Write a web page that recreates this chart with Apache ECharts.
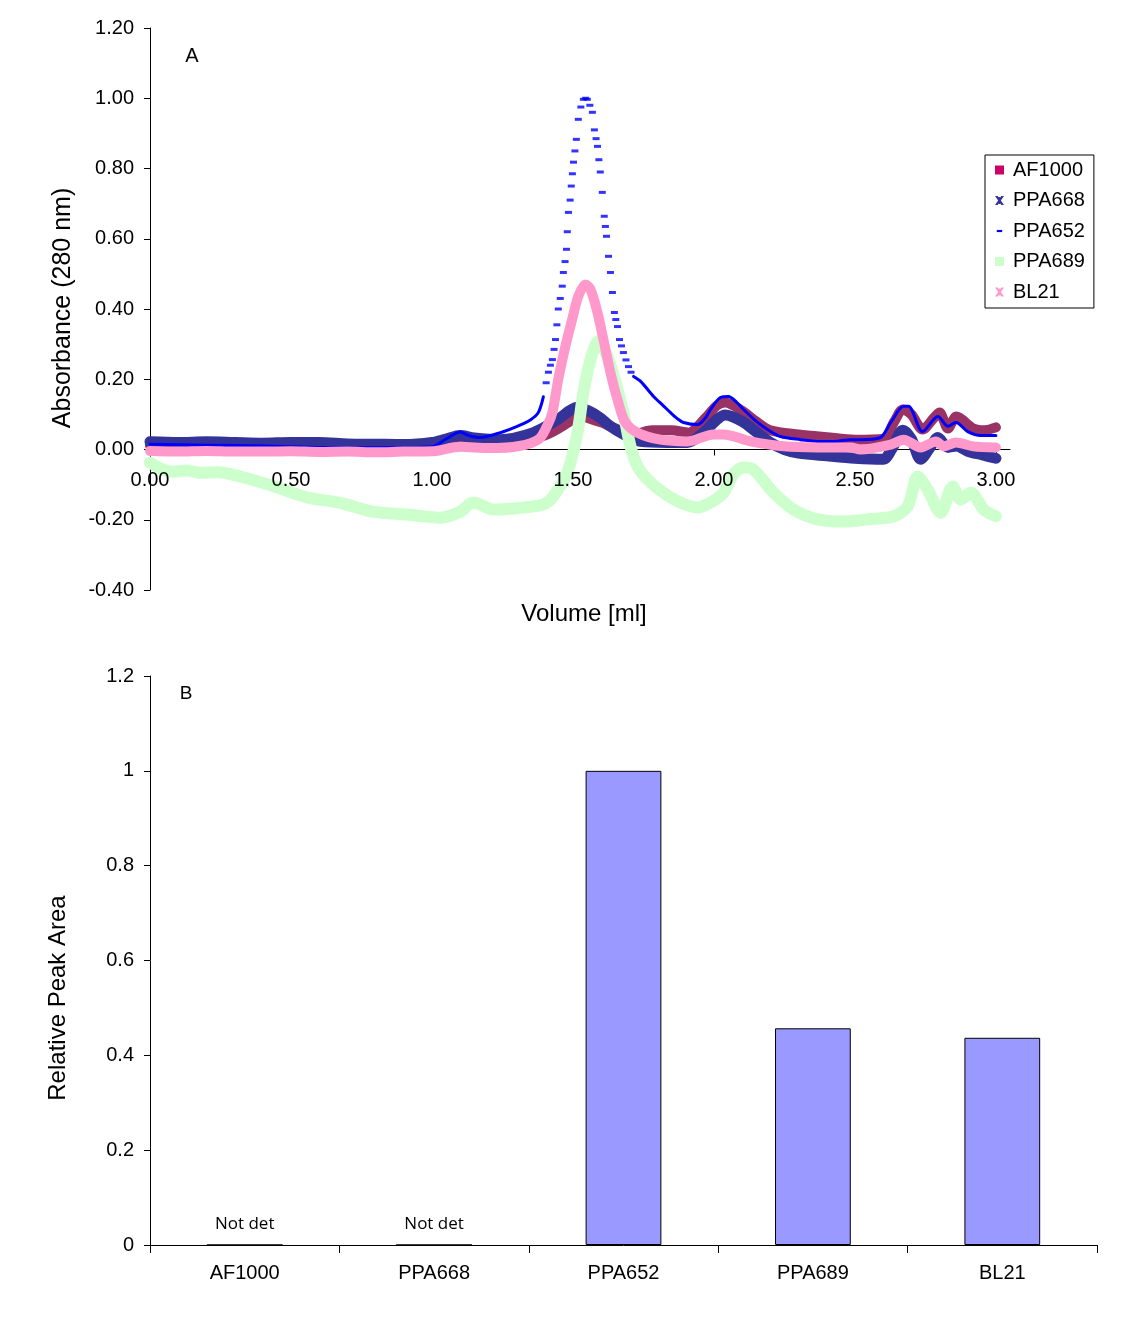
<!DOCTYPE html>
<html>
<head>
<meta charset="utf-8">
<title>Absorbance / Relative Peak Area</title>
<script src="https://cdn.jsdelivr.net/npm/echarts@6/dist/echarts.min.js"></script>
<style>
  html, body { margin: 0; padding: 0; background: #fff; }
  #main { width: 1138px; height: 1334px; }
</style>
</head>
<body>
<div id="main"></div>
<script>
// ---- panel A : absorbance traces, [volume ml, absorbance] ----
var af1000 = [[0,0.012],[0.1,0.01],[0.2,0.012],[0.3,0.01],[0.4,0.008],[0.5,0.01],[0.6,0.008],[0.7,0.008],[0.8,0.006],[0.9,0.006],[1.0,0.01],[1.1,0.025],[1.2,0.02],[1.3,0.025],[1.4,0.04],[1.45,0.06],[1.5,0.085],[1.53,0.094],[1.57,0.085],[1.6,0.077],[1.66,0.057],[1.72,0.045],[1.78,0.055],[1.85,0.055],[1.91,0.048],[1.97,0.09],[2.01,0.125],[2.04,0.134],[2.1,0.11],[2.15,0.08],[2.2,0.055],[2.3,0.043],[2.4,0.035],[2.5,0.028],[2.6,0.03],[2.64,0.08],[2.67,0.114],[2.7,0.1],[2.74,0.057],[2.78,0.09],[2.8,0.105],[2.83,0.06],[2.86,0.094],[2.92,0.06],[2.96,0.055],[3.0,0.063]];

var ppa668 = [[0,0.022],[0.1,0.02],[0.2,0.022],[0.3,0.02],[0.4,0.018],[0.5,0.02],[0.6,0.02],[0.7,0.016],[0.8,0.015],[0.9,0.014],[1.0,0.02],[1.05,0.03],[1.1,0.04],[1.15,0.033],[1.24,0.028],[1.36,0.048],[1.445,0.085],[1.516,0.12],[1.56,0.108],[1.597,0.09],[1.633,0.066],[1.68,0.043],[1.74,0.023],[1.835,0.02],[1.906,0.02],[1.963,0.048],[2.01,0.085],[2.04,0.098],[2.1,0.08],[2.15,0.05],[2.2,0.02],[2.25,0.0],[2.3,-0.01],[2.4,-0.018],[2.5,-0.025],[2.6,-0.028],[2.63,0.0],[2.67,0.055],[2.7,0.03],[2.733,-0.028],[2.77,0.01],[2.794,0.034],[2.83,0.006],[2.86,0.01],[2.9,-0.005],[2.95,-0.015],[3.0,-0.025]];

// PPA652 : solid where the points crowd together, single dashes on the steep peak
var ppa652Left = [[0,0.015],[0.2,0.012],[0.4,0.01],[0.6,0.006],[0.8,0.005],[1.0,0.008],[1.05,0.03],[1.1,0.05],[1.13,0.04],[1.17,0.034],[1.25,0.05],[1.3,0.065],[1.35,0.085],[1.377,0.105],[1.395,0.15]];
var ppa652Peak = [[1.405,0.19],[1.413,0.22],[1.42,0.24],[1.427,0.256],[1.433,0.285],[1.438,0.313],[1.443,0.355],[1.448,0.4],[1.455,0.43],[1.462,0.465],[1.466,0.504],[1.472,0.535],[1.477,0.57],[1.48,0.62],[1.484,0.675],[1.49,0.71],[1.494,0.75],[1.498,0.785],[1.502,0.818],[1.507,0.85],[1.512,0.883],[1.519,0.94],[1.528,0.975],[1.537,0.997],[1.545,1.0],[1.551,0.997],[1.56,0.98],[1.569,0.96],[1.576,0.91],[1.582,0.885],[1.587,0.863],[1.592,0.825],[1.597,0.79],[1.604,0.732],[1.611,0.664],[1.615,0.635],[1.619,0.607],[1.626,0.55],[1.633,0.504],[1.64,0.447],[1.647,0.39],[1.652,0.37],[1.658,0.35],[1.665,0.313],[1.672,0.295],[1.679,0.276],[1.688,0.255],[1.697,0.236],[1.706,0.22]];
var ppa652Right = [[1.715,0.208],[1.74,0.194],[1.786,0.151],[1.82,0.125],[1.846,0.105],[1.87,0.088],[1.892,0.077],[1.942,0.071],[1.97,0.09],[1.988,0.114],[2.023,0.148],[2.052,0.151],[2.08,0.135],[2.105,0.114],[2.155,0.077],[2.19,0.057],[2.236,0.037],[2.307,0.028],[2.368,0.023],[2.425,0.023],[2.485,0.028],[2.52,0.028],[2.59,0.034],[2.627,0.077],[2.673,0.123],[2.69,0.123],[2.74,0.051],[2.794,0.094],[2.83,0.066],[2.858,0.077],[2.9,0.051],[2.946,0.04],[3.0,0.04]];

var ppa689 = [[0,-0.037],[0.04,-0.055],[0.08,-0.063],[0.13,-0.06],[0.18,-0.066],[0.24,-0.065],[0.32,-0.077],[0.44,-0.105],[0.56,-0.137],[0.67,-0.151],[0.79,-0.177],[0.91,-0.185],[1.03,-0.194],[1.1,-0.177],[1.147,-0.151],[1.218,-0.171],[1.3,-0.167],[1.36,-0.162],[1.4,-0.155],[1.43,-0.134],[1.48,-0.066],[1.516,0.048],[1.537,0.162],[1.562,0.256],[1.59,0.308],[1.622,0.265],[1.651,0.191],[1.679,0.105],[1.704,0.009],[1.729,-0.048],[1.764,-0.085],[1.821,-0.123],[1.881,-0.151],[1.942,-0.165],[1.99,-0.15],[2.034,-0.123],[2.07,-0.07],[2.105,-0.051],[2.14,-0.057],[2.212,-0.123],[2.283,-0.171],[2.368,-0.199],[2.46,-0.205],[2.545,-0.199],[2.638,-0.19],[2.687,-0.162],[2.723,-0.077],[2.758,-0.114],[2.804,-0.18],[2.847,-0.105],[2.875,-0.142],[2.911,-0.123],[2.957,-0.171],[3.0,-0.19]];

var bl21 = [[0,-0.004],[0.1,-0.006],[0.2,-0.004],[0.3,-0.006],[0.4,-0.006],[0.5,-0.005],[0.6,-0.007],[0.7,-0.006],[0.8,-0.008],[0.9,-0.006],[1.0,-0.005],[1.1,0.008],[1.2,0.004],[1.31,0.01],[1.38,0.03],[1.41,0.07],[1.427,0.105],[1.448,0.2],[1.473,0.293],[1.497,0.37],[1.519,0.436],[1.544,0.47],[1.562,0.456],[1.587,0.39],[1.608,0.313],[1.633,0.219],[1.658,0.142],[1.686,0.077],[1.729,0.048],[1.81,0.028],[1.906,0.023],[1.999,0.043],[2.034,0.043],[2.13,0.023],[2.247,0.009],[2.368,0.006],[2.485,0.006],[2.52,0.0],[2.627,0.014],[2.673,0.028],[2.733,0.006],[2.787,0.023],[2.815,0.009],[2.858,0.02],[2.92,0.009],[3.0,0.006]];

var volumeTicks = [0, 0.5, 1.0, 1.5, 2.0, 2.5, 3.0];

// ---- panel B : relative peak area ----
var strains = ['AF1000', 'PPA668', 'PPA652', 'PPA689', 'BL21'];
var peakArea = [0, 0, 1.0, 0.457, 0.437];
var notDetected = [true, true, false, false, false];

var FONT = 'Liberation Sans';
var xIcon = 'path://M0,0 L3,0 L5,3 L7,0 L10,0 L6.5,5 L10,10 L7,10 L5,7 L3,10 L0,10 L3.5,5 Z M4.2,1 H5.8 V9 H4.2 Z';
var dashIcon = 'path://M0,0 M10,10 M2,3.8 H8 V6.2 H2 Z';

function band(name, data, color, width) {
  return {
    name: name,
    type: 'line',
    xAxisIndex: 0,
    yAxisIndex: 0,
    data: data,
    showSymbol: false,
    smooth: 0.3,
    silent: true,
    itemStyle: { color: color },
    lineStyle: { color: color, width: width, cap: 'round', join: 'round' }
  };
}

var chart = echarts.init(document.getElementById('main'), null, { renderer: 'canvas' });

var option = {
  animation: false,
  backgroundColor: '#fff',
  textStyle: { fontFamily: FONT, color: '#000' },
  grid: [
    { left: 150, right: 128, top: 28, bottom: 744 },
    { left: 150, right: 41, top: 676, bottom: 89 },
    // only carries the volume labels, its bottom edge sits on absorbance 0
    { left: 150, right: 128, top: 28, bottom: 884 }
  ],
  legend: {
    orient: 'vertical',
    left: 985,
    top: 155,
    padding: [5, 9, 6, 10],
    itemGap: 10.5,
    itemWidth: 9,
    itemHeight: 9,
    backgroundColor: '#fff',
    borderColor: '#000',
    borderWidth: 1,
    borderRadius: 0,
    textStyle: { fontFamily: FONT, fontSize: 20, color: '#000', lineHeight: 20, padding: [0, 0, 0, 4] },
    itemStyle: { borderWidth: 0 },
    data: [
      { name: 'AF1000', icon: 'rect', itemStyle: { color: '#CC0066' } },
      { name: 'PPA668', icon: xIcon, itemStyle: { color: '#333399' } },
      { name: 'PPA652', icon: dashIcon, itemStyle: { color: '#0000FF' } },
      { name: 'PPA689', icon: 'rect', itemStyle: { color: '#CCFFCC' } },
      { name: 'BL21', icon: xIcon, itemStyle: { color: '#FF99CC' } }
    ],
    selectedMode: false
  },
  xAxis: [
    {
      gridIndex: 0,
      type: 'value',
      min: 0,
      max: 3.05,
      axisLine: { onZero: true, lineStyle: { color: '#000', width: 1 } },
      axisTick: { show: true, length: 6, lineStyle: { color: '#000' }, customValues: volumeTicks },
      axisLabel: { show: false },
      splitLine: { show: false }
    },
    {
      gridIndex: 1,
      type: 'category',
      data: strains,
      axisLine: { lineStyle: { color: '#000', width: 1 } },
      axisTick: { show: true, length: 8, alignWithLabel: false, lineStyle: { color: '#000' } },
      axisLabel: { fontSize: 20, color: '#000', margin: 18, fontFamily: FONT },
      splitLine: { show: false }
    },
    {
      gridIndex: 2,
      type: 'value',
      min: 0,
      max: 3.05,
      z: 10,
      axisLine: { show: false, onZero: false },
      axisTick: { show: false },
      axisLabel: {
        fontSize: 20, color: '#000', margin: 20, fontFamily: FONT,
        customValues: volumeTicks,
        formatter: function (v) { return v.toFixed(2); }
      },
      splitLine: { show: false }
    }
  ],
  yAxis: [
    {
      gridIndex: 0,
      type: 'value',
      min: -0.4,
      max: 1.2,
      interval: 0.2,
      axisLine: { show: true, lineStyle: { color: '#000', width: 1 } },
      axisTick: { show: true, length: 6, lineStyle: { color: '#000' } },
      axisLabel: {
        fontSize: 20, color: '#000', margin: 16, fontFamily: FONT,
        formatter: function (v) { return v.toFixed(2); }
      },
      splitLine: { show: false }
    },
    {
      gridIndex: 1,
      type: 'value',
      min: 0,
      max: 1.2,
      interval: 0.2,
      axisLine: { show: true, lineStyle: { color: '#000', width: 1 } },
      axisTick: { show: true, length: 6, lineStyle: { color: '#000' } },
      axisLabel: {
        fontSize: 20, color: '#000', margin: 16, fontFamily: FONT,
        formatter: function (v) { return String(Math.round(v * 10) / 10); }
      },
      splitLine: { show: false }
    },
    {
      gridIndex: 2,
      type: 'value',
      min: 0,
      max: 1.2,
      show: false
    }
  ],
  graphic: [
    { type: 'text', x: 192, y: 56, style: { text: 'A', font: '20px "Liberation Sans"', fill: '#000', align: 'center', verticalAlign: 'middle' } },
    { type: 'text', x: 186, y: 694, style: { text: 'B', font: '19px "Liberation Sans"', fill: '#000', align: 'center', verticalAlign: 'middle' } },
    { type: 'text', x: 584, y: 614, style: { text: 'Volume [ml]', font: '24px "Liberation Sans"', fill: '#000', align: 'center', verticalAlign: 'middle' } },
    { type: 'text', x: 63, y: 308, rotation: Math.PI / 2, style: { text: 'Absorbance (280 nm)', font: '25px "Liberation Sans"', fill: '#000', align: 'center', verticalAlign: 'middle' } },
    { type: 'text', x: 58, y: 998, rotation: Math.PI / 2, style: { text: 'Relative Peak Area', font: '24px "Liberation Sans"', fill: '#000', align: 'center', verticalAlign: 'middle' } }
  ],
  series: [
    band('AF1000', af1000, '#993366', 10),
    band('PPA668', ppa668, '#333399', 11),
    band('PPA652', ppa652Left, '#0000FF', 3),
    band('PPA652', ppa652Right, '#0000FF', 3),
    {
      // the peak shows the single dash markers
      name: 'PPA652',
      type: 'scatter',
      xAxisIndex: 0,
      yAxisIndex: 0,
      data: ppa652Peak,
      symbol: 'rect',
      symbolSize: [7, 3],
      silent: true,
      itemStyle: { color: '#0000FF' }
    },
    band('PPA689', ppa689, '#CCFFCC', 12),
    band('BL21', bl21, '#FF99CC', 10),
    {
      name: 'Relative Peak Area',
      type: 'bar',
      xAxisIndex: 1,
      yAxisIndex: 1,
      barWidth: '40%',
      silent: true,
      itemStyle: { color: '#9999FF', borderColor: '#000', borderWidth: 1 },
      data: peakArea.map(function (v, i) {
        if (notDetected[i]) {
          return {
            value: v,
            label: {
              show: true, position: 'top', distance: 12, formatter: 'Not det',
              fontFamily: 'Open Sans', fontSize: 17, color: '#000'
            }
          };
        }
        return v;
      })
    }
  ]
};

chart.setOption(option);
</script>
</body>
</html>
